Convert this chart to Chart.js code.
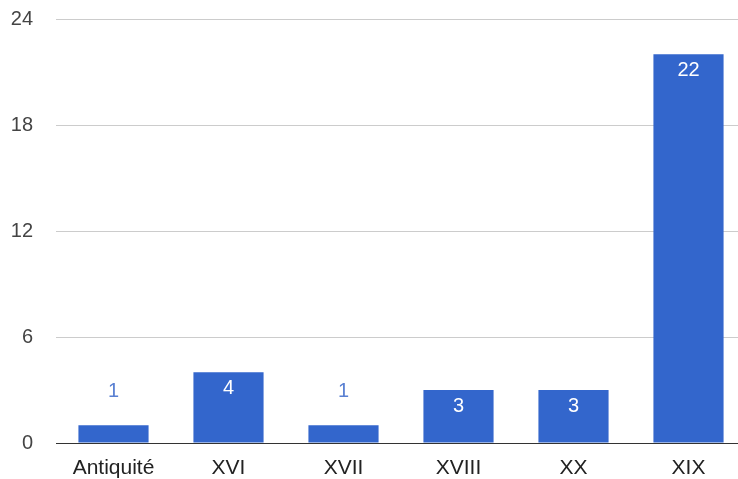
<!DOCTYPE html>
<html>
<head>
<meta charset="utf-8">
<script src="https://cdn.jsdelivr.net/npm/chart.js@4"></script>
<style>
  html, body { margin: 0; padding: 0; background: #fff; overflow: hidden; }
  #wrap { width: 746px; height: 479px; }
</style>
</head>
<body>
<div id="wrap"><canvas id="chart" width="746" height="479"></canvas></div>
<script>
const categories = ["Antiquité", "XVI", "XVII", "XVIII", "XX", "XIX"];
const counts = [1, 4, 1, 3, 3, 22];
const yTicks = [0, 6, 12, 18, 24];

const FONT = "Arial, 'Liberation Sans', sans-serif";
const BAR = "#3366cc";

// value labels: white inside tall bars, blue above short ones
const valueLabels = {
  id: "valueLabels",
  afterDatasetsDraw(chart) {
    const ctx = chart.ctx;
    const meta = chart.getDatasetMeta(0);
    ctx.save();
    ctx.font = "20px " + FONT;
    ctx.textAlign = "center";
    ctx.textBaseline = "middle";
    meta.data.forEach((bar, i) => {
      const h = bar.base - bar.y;
      if (h > 40) {
        ctx.fillStyle = "#ffffff";
        ctx.fillText(counts[i], bar.x, bar.y + 16);
      } else {
        ctx.fillStyle = "#5a80d2";
        ctx.fillText(counts[i], bar.x, bar.y - 34);
      }
    });
    ctx.restore();
  }
};

new Chart(document.getElementById("chart"), {
  type: "bar",
  data: {
    labels: categories,
    datasets: [{
      data: counts,
      backgroundColor: BAR,
      borderWidth: 0,
      categoryPercentage: 1,
      barPercentage: 0.61
    }]
  },
  options: {
    responsive: false,
    animation: false,
    layout: { padding: { top: 19, right: 0, left: 0, bottom: 0 } },
    plugins: { legend: { display: false }, tooltip: { enabled: false } },
    scales: {
      x: {
        grid: { display: false },
        border: { display: false },
        ticks: { color: "#222", font: { family: FONT, size: 21 }, padding: 5, maxRotation: 0 },
        afterFit(scale) { scale.height = 36; }
      },
      y: {
        min: 0,
        max: 24,
        afterBuildTicks(scale) { scale.ticks = yTicks.map(v => ({ value: v })); },
        grid: {
          color: ctx => ctx.tick.value === 0 ? "#333" : "#cccccc",
          lineWidth: 1,
          drawTicks: false
        },
        border: { display: false },
        ticks: { color: "#444", font: { family: FONT, size: 20 }, padding: 23 },
        afterFit(scale) {
          // keep the tick padding from pushing the plot area down
          scale.width = 56;
          scale.paddingTop = 0;
          scale.paddingBottom = 0;
        }
      }
    }
  },
  plugins: [valueLabels]
});
</script>
</body>
</html>
